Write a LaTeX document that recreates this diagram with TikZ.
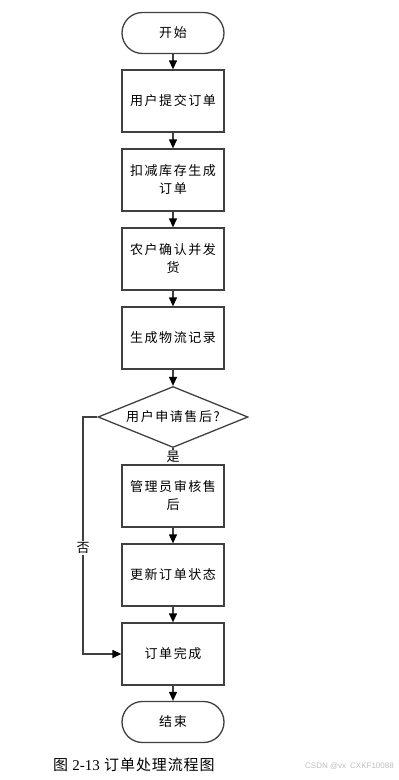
\documentclass[tikz,border=0pt]{standalone}
\usepackage{fontspec}
\setmainfont{Liberation Serif}
\newfontfamily\cjk[LetterSpace=12]{Noto Sans CJK SC}
\newfontfamily\cjkcap[LetterSpace=6]{Noto Sans CJK SC}
\newfontfamily\wmfont{Liberation Sans}
\usetikzlibrary{arrows.meta,shapes.geometric}
\definecolor{linegray}{HTML}{404040}
\begin{document}
\begin{tikzpicture}[x=1pt,y=-1pt,
  every node/.style={font=\cjk\fontsize{13}{18}\selectfont, text=black},
  procbox/.style={draw=linegray, line width=1.3pt, fill=white, minimum width=102pt, minimum height=62pt, inner sep=0pt, align=center},
  termbox/.style={draw=linegray, line width=1.3pt, fill=white, rounded corners=20.5pt, minimum width=102pt, minimum height=41pt, inner sep=0pt},
  decbox/.style={draw=linegray, line width=1.3pt, fill=white, diamond, aspect=2.46, minimum width=150pt, minimum height=61pt, inner sep=0pt},
  flow/.style={draw=linegray, line width=1.3pt, -{Triangle[width=8pt,length=9pt,color=black]}},
  plain/.style={draw=linegray, line width=1.3pt},
  lbl/.style={fill=white, inner sep=1pt}
]
\useasboundingbox (0,0) rectangle (399,780);
\node[termbox] (start) at (173,33) {开始};
\node[procbox] (b1) at (173,101) {用户提交订单};
\node[procbox] (b2) at (173,180) {扣减库存生成\\订单};
\node[procbox] (b3) at (173,259) {农户确认并发\\货};
\node[procbox] (b4) at (173,338) {生成物流记录};
\node[decbox] (dia) at (173,417) {用户申请售后?};
\node[procbox] (b5) at (173,496) {管理员审核售\\后};
\node[procbox] (b6) at (173,575) {更新订单状态};
\node[procbox] (b7) at (173,654) {订单完成};
\node[termbox] (end) at (173,722) {结束};
\coordinate (lt) at (83,417);
\coordinate (lb) at (83,654);

\draw[flow] (start) -- (b1);
\draw[flow] (b1) -- (b2);
\draw[flow] (b2) -- (b3);
\draw[flow] (b3) -- (b4);
\draw[flow] (b4) -- (dia);
\draw[plain] (dia) -- (b5) node[lbl, pos=0.55] (yes) {是};
\draw[flow] (b5) -- (b6);
\draw[flow] (b6) -- (b7);
\draw[flow] (b7) -- (end);
\draw[flow] (dia.west) -- (lt) -- (lb) -- (b7.west);
\node[lbl] (no) at (83,548) {否};

\node[anchor=west, inner sep=0pt, font=\cjkcap\fontsize{15}{18}\selectfont] (cap) at (53,765) {图 {\rmfamily 2-13} 订单处理流程图};
\node[anchor=east, inner sep=0pt, font=\wmfont\fontsize{8}{10}\selectfont, text=black!25] (wm) at (394,766) {CSDN @vx\hspace{4pt}CXKF10088};
\end{tikzpicture}
\end{document}
